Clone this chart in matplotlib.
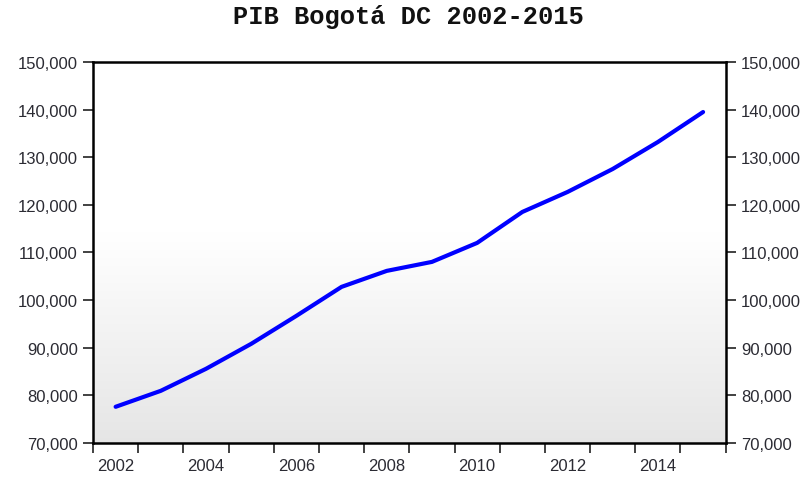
import numpy as np
import matplotlib
matplotlib.use("Agg")
import matplotlib.pyplot as plt
from matplotlib.ticker import FuncFormatter, FixedLocator

# PIB Bogota
years = [2002, 2003, 2004, 2005, 2006, 2007, 2008, 2009, 2010, 2011, 2012, 2013, 2014, 2015]
pib = [77560, 80920, 85540, 90790, 96670, 102760, 106120, 108010, 112000, 118500, 122700, 127530, 133200, 139500]
year_labels = ["2002", "2004", "2006", "2008", "2010", "2012", "2014"]

fig = plt.figure(figsize=(8.09, 4.85), dpi=100)
ax = fig.add_axes([0.115, 0.085, 0.782, 0.785])

# background gradient: light grey at bottom fading to white at top
t = np.linspace(0, 1, 256)  # 0 = bottom, 1 = top
shade = 1.0 - 0.10 * np.clip((0.55 - t) / 0.55, 0, 1)
img = np.repeat(shade[:, None, None], 3, axis=2)
ax.imshow(img, extent=[0, 1, 0, 1], transform=ax.transAxes, aspect="auto",
          origin="lower", zorder=0)

# points sit in the middle of each year
x = np.array(years) + 0.5
ax.plot(x, pib, color="#0000ff", lw=3.0, solid_capstyle="round", solid_joinstyle="round", zorder=3)

ax.set_xlim(2002, 2016)
ax.set_ylim(70000, 150000)

ax.xaxis.set_major_locator(FixedLocator(np.arange(2002, 2017)))
ax.xaxis.set_minor_locator(FixedLocator([int(s) + 0.5 for s in year_labels]))
ax.xaxis.set_major_formatter(FuncFormatter(lambda v, p: ""))
ax.xaxis.set_minor_formatter(FuncFormatter(lambda v, p: str(int(v))))
ax.tick_params(axis="x", which="major", direction="out", length=7, width=1.3, color="#333333")
ax.tick_params(axis="x", which="minor", length=0, pad=11)

ax.set_yticks(np.arange(70000, 150001, 10000))
ax.yaxis.set_major_formatter(FuncFormatter(lambda v, p: f"{int(v):,}"))
ax.tick_params(axis="y", which="major", direction="out", length=7, width=1.3, color="#333333",
               left=True, right=True, labelleft=True, labelright=True, pad=4)

for lab in ax.get_xticklabels(minor=True) + ax.get_yticklabels() + ax.yaxis.get_ticklabels(which="major"):
    lab.set_fontfamily("Liberation Sans")
    lab.set_fontsize(12)
    lab.set_color("#2b2b33")
for tk in ax.yaxis.get_major_ticks():
    tk.label2.set_fontfamily("Liberation Sans")
    tk.label2.set_fontsize(12)
    tk.label2.set_color("#2b2b33")

for s in ax.spines.values():
    s.set_linewidth(1.8)
    s.set_color("black")

fig.text(0.505, 0.965, "PIB Bogotá DC 2002-2015", ha="center", va="center",
         family="Liberation Mono", fontweight="bold", fontsize=18.3, color="#111111")

fig.savefig("out.png", dpi=100, facecolor="white")
